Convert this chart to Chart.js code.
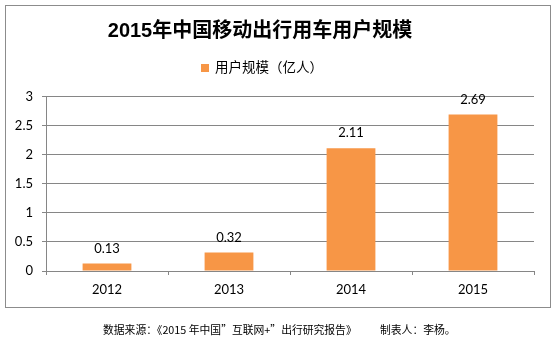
<!DOCTYPE html>
<html>
<head>
<meta charset="utf-8">
<script src="https://cdn.jsdelivr.net/npm/chart.js@4"></script>
<style>
html,body{margin:0;padding:0;background:#fff;}
#wrap{position:relative;width:557px;height:339px;}
</style>
</head>
<body>
<div id="wrap"><canvas id="c" width="557" height="339"></canvas></div>
<script>
const chartTitle = "2015年中国移动出行用车用户规模";
const footerSource = "数据来源：《2015 年中国”互联网+”出行研究报告》";
const footerAuthor = "制表人：李杨。";
const categories = ["2012", "2013", "2014", "2015"];
const seriesName = "用户规模（亿人）";
const userScale = [0.13, 0.32, 2.11, 2.69];
const yTicks = [0, 0.5, 1, 1.5, 2, 2.5, 3];

const ORANGE = "#F79646";
const GRID = "#868686";
const NUMFONT = "Lato, 'Liberation Sans', sans-serif";
const CJK = "'Liberation Sans', 'Noto Sans CJK SC', sans-serif";

const decor = {
  id: "decor",
  beforeDraw(chart) {
    const ctx = chart.ctx;
    ctx.save();
    ctx.fillStyle = "#fff";
    ctx.fillRect(0, 0, chart.width, chart.height);
    ctx.strokeStyle = "#8c8c8c";
    ctx.lineWidth = 1;
    ctx.strokeRect(5.5, 5.5, 545, 302);
    ctx.restore();
  },
  afterDraw(chart) {
    const ctx = chart.ctx;
    ctx.save();
    // title
    ctx.fillStyle = "#000";
    ctx.font = "bold 20px " + CJK;
    ctx.textAlign = "center";
    ctx.textBaseline = "middle";
    ctx.fillText(chartTitle, 260, 31);
    // legend
    const label = chart.data.datasets[0].label;
    ctx.font = "13.5px " + CJK;
    const tw = ctx.measureText(label).width;
    const total = 8 + 6 + tw;
    const lx = 262 - total / 2;
    ctx.fillStyle = ORANGE;
    ctx.fillRect(lx, 64, 8, 8);
    ctx.fillStyle = "#000";
    ctx.textAlign = "left";
    ctx.fillText(label, lx + 14, 68.5);
    // footer
    ctx.font = "10.8px 'Noto Sans CJK SC', sans-serif";
    ctx.fillStyle = "#000";
    ctx.textAlign = "left";
    ctx.fillText(footerSource, 103, 330);
    ctx.fillText(footerAuthor, 380, 330);
    ctx.restore();
  },
  afterDatasetsDraw(chart) {
    const ctx = chart.ctx;
    const meta = chart.getDatasetMeta(0);
    const data = chart.data.datasets[0].data;
    ctx.save();
    ctx.font = "13px " + NUMFONT;
    ctx.fillStyle = "#000";
    ctx.textAlign = "center";
    ctx.textBaseline = "middle";
    meta.data.forEach((bar, i) => {
      ctx.fillText(data[i].toFixed(2), bar.x, bar.y - 15);
    });
    ctx.restore();
  }
};

new Chart(document.getElementById("c"), {
  type: "bar",
  data: {
    labels: categories,
    datasets: [{
      label: seriesName,
      data: userScale,
      backgroundColor: ORANGE,
      borderWidth: 0,
      categoryPercentage: 1,
      barPercentage: 0.4
    }]
  },
  options: {
    responsive: false,
    animation: false,
    events: [],
    layout: { padding: { top: 96.5, bottom: 32, left: 0, right: 23 } },
    plugins: {
      legend: { display: false },
      title: { display: false },
      tooltip: { enabled: false }
    },
    scales: {
      x: {
        grid: { drawOnChartArea: false, drawTicks: true, tickLength: 4, color: GRID, offset: true },
        border: { color: GRID, width: 1 },
        ticks: { color: "#000", font: { family: NUMFONT, size: 13 }, padding: 7, maxRotation: 0 },
        afterFit(scale) { scale.height = 36; }
      },
      y: {
        min: 0, max: 3,
        afterBuildTicks(scale) { scale.ticks = yTicks.map(v => ({ value: v })); },
        grid: { color: GRID, tickLength: 4, drawTicks: true },
        border: { color: GRID, width: 1 },
        ticks: { color: "#000", font: { family: NUMFONT, size: 13 }, padding: 9,
          callback: (v) => String(v) },
        afterFit(scale) { scale.width = 46; }
      }
    }
  },
  plugins: [decor]
});
</script>
</body>
</html>
